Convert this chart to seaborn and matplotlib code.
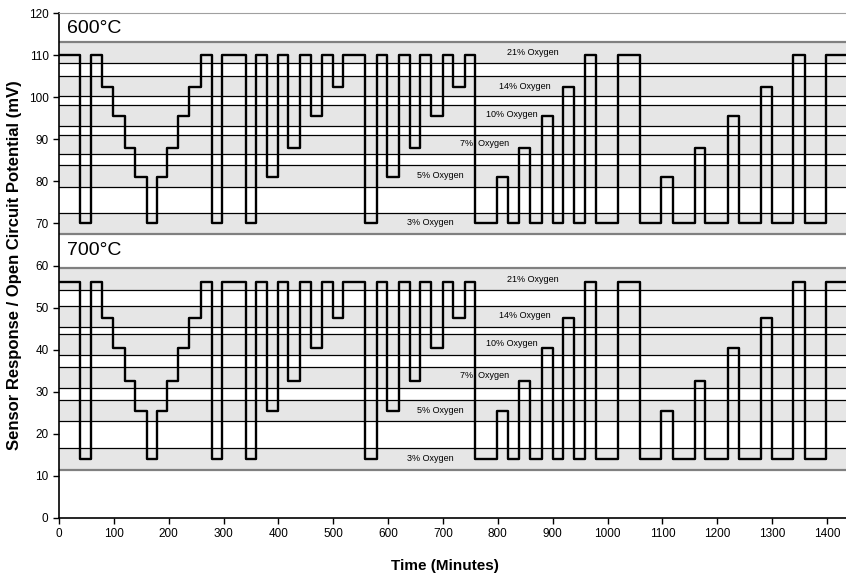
import matplotlib
matplotlib.use("Agg")
import matplotlib.pyplot as plt
import seaborn as sns
import pandas as pd

# segment start times (minutes) and the oxygen level held from that time
step_times = [0, 38, 58, 78, 99, 120, 139, 160, 178, 196, 217, 237, 259, 278,
              298, 340, 359, 379, 400, 418, 439, 459, 479, 499, 518, 558, 579,
              597, 619, 639, 658, 679, 700, 719, 740, 758, 798, 819, 839, 859,
              880, 900, 919, 939, 959, 979, 1019, 1059, 1098, 1119, 1159, 1178,
              1219, 1240, 1280, 1299, 1338, 1359, 1399, 1440]
oxygen_seq = [21, 3, 21, 14, 10, 7, 5, 3, 5, 7, 10, 14, 21, 3,
              21, 3, 21, 5, 21, 7, 21, 10, 21, 14, 21, 3, 21,
              5, 21, 7, 21, 10, 21, 14, 21, 3, 5, 3, 7, 3,
              10, 3, 14, 3, 21, 3, 21, 3, 5, 3, 7, 3,
              10, 3, 14, 3, 21, 3, 21, 21]

# sensor response (mV) at each oxygen level
oxygen_pct = [21, 14, 10, 7, 5, 3]
resp_600 = [110, 102.5, 95.5, 88, 81, 70]
resp_700 = [56, 47.5, 40.5, 32.5, 25.5, 14]

# shaded response bands (low, high) per oxygen level
bands_600 = [(108.1, 113), (100.2, 105), (93.1, 98.2), (86.4, 91.1), (78.7, 84), (67.6, 72.4)]
bands_700 = [(54.1, 59.4), (45.4, 50.3), (38.8, 43.65), (31, 35.9), (23.1, 28), (11.5, 16.6)]

# label positions (minutes, mV)
label_text = ["21% Oxygen", "14% Oxygen", "10% Oxygen", "7%  Oxygen", "5% Oxygen", "3% Oxygen"]
label_x = [864, 849, 825, 776, 695, 676]
label_y_600 = [110.7, 102.6, 95.8, 88.9, 81.3, 70.2]
label_y_700 = [56.7, 48.2, 41.4, 33.9, 25.6, 14.2]

sns.set_style("ticks")
plt.rcParams["font.family"] = ["Liberation Sans", "DejaVu Sans"]
plt.rcParams.update({"text.color": "black", "axes.labelcolor": "black",
                     "xtick.color": "black", "ytick.color": "black"})

fig = plt.figure(figsize=(8.46, 5.76), dpi=100)
ax = fig.add_axes([59 / 846, 1 - 518 / 576, 1 - 59 / 846, (518 - 13) / 576])

for bands in (bands_600, bands_700):
    for i, (lo, hi) in enumerate(bands):
        ax.axhspan(lo, hi, color="#e6e6e6", lw=0, zorder=0)
        top_c = "#808080" if i == 0 else "black"
        bot_c = "#808080" if i == len(bands) - 1 else "black"
        top_w = 1.6 if i == 0 else 0.9
        bot_w = 1.6 if i == len(bands) - 1 else 0.9
        ax.axhline(hi, color=top_c, lw=top_w, zorder=1)
        ax.axhline(lo, color=bot_c, lw=bot_w, zorder=1)

df = pd.DataFrame({"time": step_times, "oxygen": oxygen_seq})
df["r600"] = df["oxygen"].map(dict(zip(oxygen_pct, resp_600)))
df["r700"] = df["oxygen"].map(dict(zip(oxygen_pct, resp_700)))

for col in ["r600", "r700"]:
    sns.lineplot(data=df, x="time", y=col, ax=ax, color="black", lw=1.7,
                 drawstyle="steps-post", estimator=None, sort=False, zorder=3)

for txt, x, y6, y7 in zip(label_text, label_x, label_y_600, label_y_700):
    ax.text(x, y6, txt, fontsize=6.5, ha="center", va="center", zorder=4)
    ax.text(x, y7, txt, fontsize=6.5, ha="center", va="center", zorder=4)

ax.text(15, 116.3, "600°C", fontsize=14, ha="left", va="center")
ax.text(15, 63.6, "700°C", fontsize=14, ha="left", va="center")

ax.set_xlim(0, 1434.6)
ax.set_ylim(0, 120)
ax.set_xticks(range(0, 1401, 100))
ax.set_yticks(range(0, 121, 10))
ax.tick_params(labelsize=8.5, length=4, width=1)
ax.set_xlabel("Time (Minutes)", fontsize=11, fontweight="bold")
ax.xaxis.label.set_va("center")
ax.xaxis.set_label_coords((445 - 59) / 787, -0.095)
ax.set_ylabel("Sensor Response / Open Circuit Potential (mV)", fontsize=12,
              fontweight="bold")
ax.yaxis.set_label_coords(-0.047, 0.5)
ax.spines["top"].set_visible(True)
ax.spines["top"].set_color("#a0a0a0")
ax.spines["right"].set_visible(False)
ax.spines["left"].set_linewidth(1.2)
ax.spines["bottom"].set_linewidth(1.2)
ax.spines["left"].set_color("black")
ax.spines["bottom"].set_color("black")

fig.savefig("out.png", dpi=100)
